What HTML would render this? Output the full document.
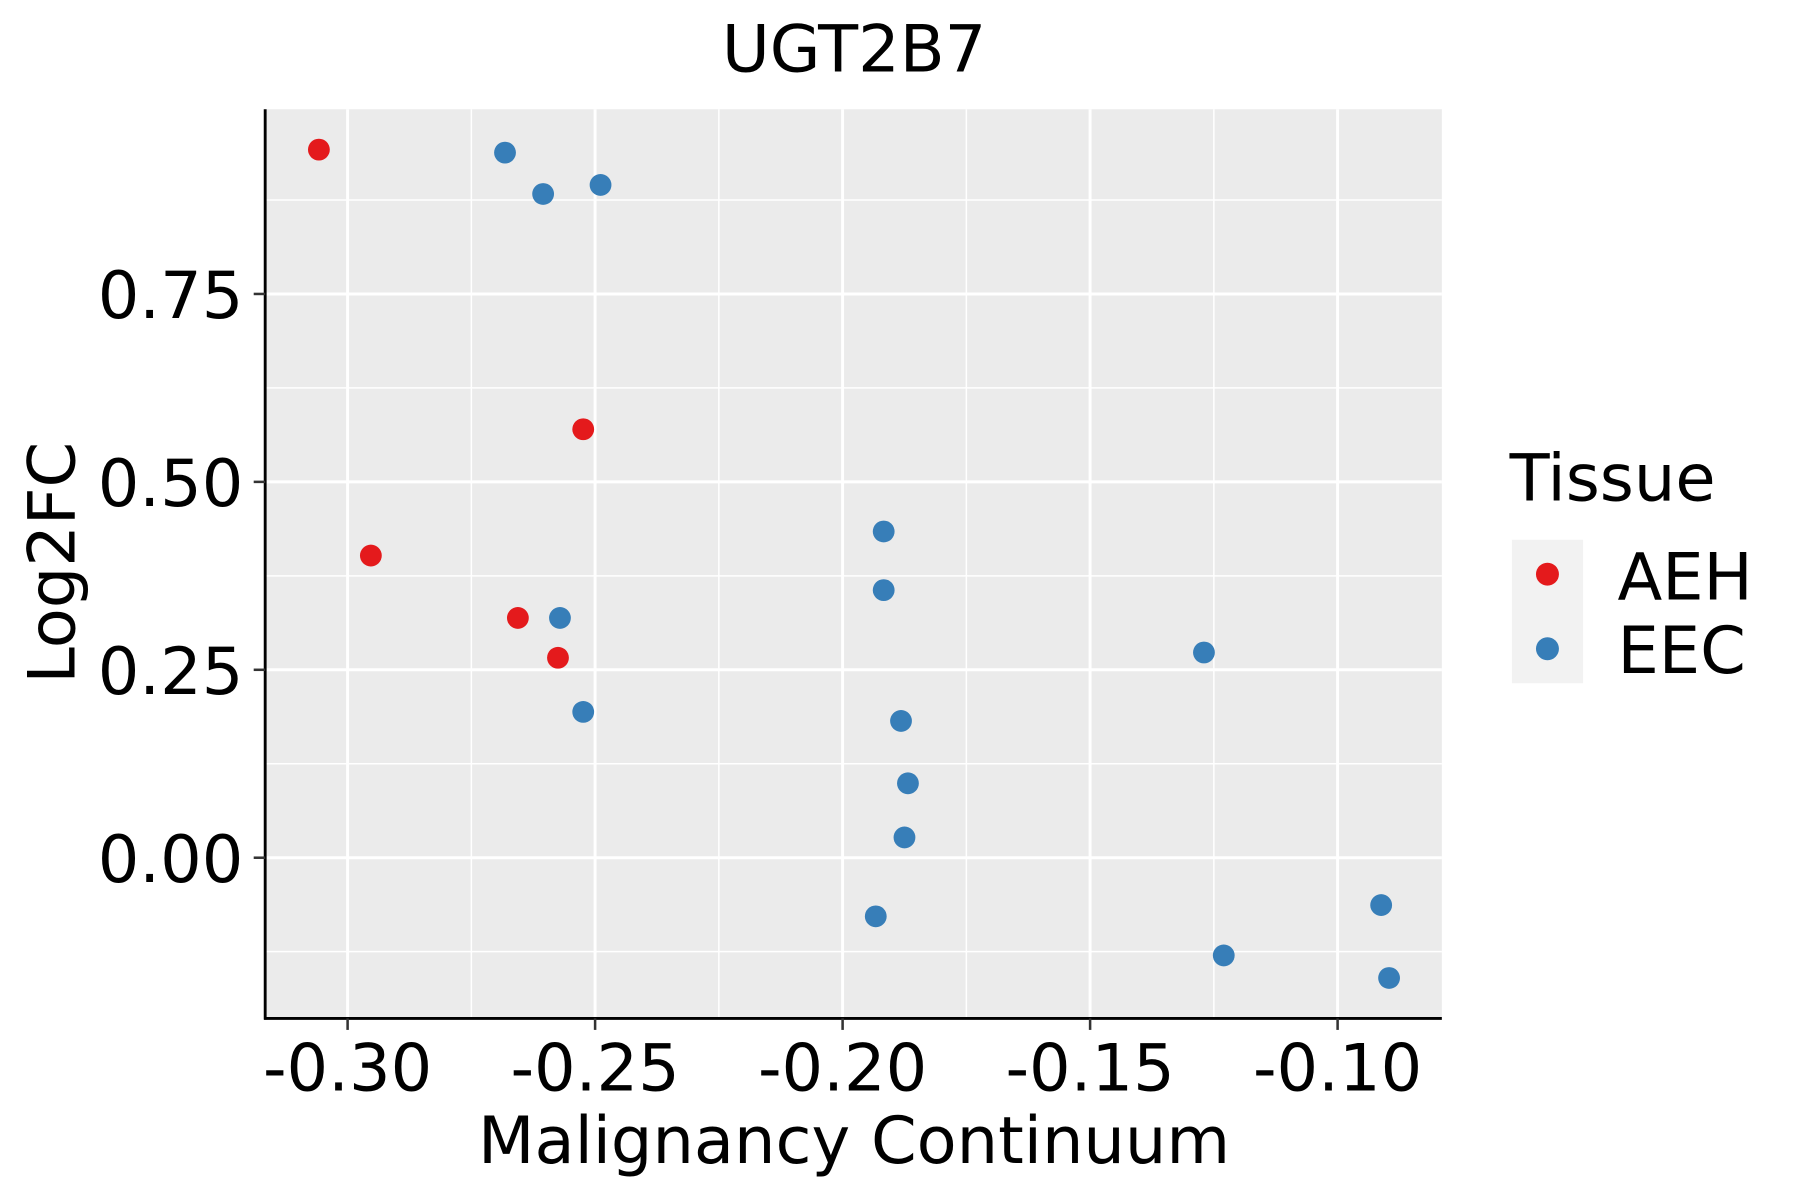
<!DOCTYPE html>
<html><head><meta charset="utf-8"><style>
html,body{margin:0;padding:0;background:#fff;}
svg{display:block;font-family:"DejaVu Sans","Liberation Sans",sans-serif;}
</style></head><body>
<svg id="chart" width="1800" height="1200" viewBox="0 0 1568 1045">
<rect x="0" y="0" width="1568" height="1045" fill="#fff"/>
<rect x="231" y="95" width="1025" height="792" fill="#ebebeb"/>
<g id="grid"></g>
<g id="points"></g>
<line x1="231" y1="95" x2="231" y2="888" stroke="#000" stroke-width="2.5"/>
<line x1="230" y1="887" x2="1256" y2="887" stroke="#000" stroke-width="2.5"/>
<g id="axes"></g>
<text x="744" y="62" font-size="57" text-anchor="middle">UGT2B7</text>
<text x="744" y="1013" font-size="57" text-anchor="middle">Malignancy Continuum</text>
<text transform="translate(65,490) rotate(-90)" font-size="57" text-anchor="middle">Log2FC</text>
<g>
<text x="1315" y="436" font-size="57">Tissue</text>
<rect x="1317" y="470" width="62" height="125" fill="#f2f2f2"/>
<g><circle cx="1348" cy="500" r="10" fill="#e41a1c"/><text x="1409" y="522" font-size="57">AEH</text></g>
<g><circle cx="1348" cy="565" r="10" fill="#377eb8"/><text x="1409" y="586" font-size="57">EEC</text></g>
</g>
</svg>
<script>
const xTicks=[-0.30,-0.25,-0.20,-0.15,-0.10];
const xTickLabels=["-0.30","-0.25","-0.20","-0.15","-0.10"];
const yTicks=[0,0.25,0.5,0.75];
const yTickLabels=["0.00","0.25","0.50","0.75"];
const aehX=[-0.3058,-0.2953,-0.2656,-0.2575,-0.2524];
const aehY=[0.942,0.402,0.319,0.266,0.570];
const eecX=[-0.2682,-0.2605,-0.2489,-0.2571,-0.2524,-0.1917,-0.1917,-0.1882,-0.1868,-0.1875,-0.1933,-0.1270,-0.1230,-0.0912,-0.0896];
const eecY=[0.938,0.883,0.895,0.319,0.194,0.434,0.356,0.182,0.099,0.027,-0.078,0.273,-0.130,-0.063,-0.160];
const NS="http://www.w3.org/2000/svg";
function xs(v){return 734+(v+0.2)*4312;}
function ys(v){return 747-v*654.8;}
const grid=document.getElementById('grid'),axes=document.getElementById('axes'),pts=document.getElementById('points');
function ln(p,x1,y1,x2,y2,c,w,name){const l=document.createElementNS(NS,'line');l.setAttribute('x1',x1);l.setAttribute('y1',y1);l.setAttribute('x2',x2);l.setAttribute('y2',y2);l.setAttribute('stroke',c);l.setAttribute('stroke-width',w);


p.appendChild(l);}
function tx(p,x,y,s,anchor,name){const t=document.createElementNS(NS,'text');t.setAttribute('x',x);t.setAttribute('y',y);t.setAttribute('font-size','57');t.setAttribute('text-anchor',anchor);t.textContent=s;


p.appendChild(t);}
const xstep=xTicks[1]-xTicks[0], ystep=yTicks[1]-yTicks[0];
for(let i=0;i<xTicks.length;i++){const m=xTicks[i]+xstep/2;if(xs(m)<1256)ln(grid,xs(m),95,xs(m),887,'#fff',1.3,'x-minor-gridline');}
for(let i=-1;i<yTicks.length;i++){const m=yTicks[0]+ystep*i+ystep/2;if(ys(m)>95&&ys(m)<887)ln(grid,231,ys(m),1256,ys(m),'#fff',1.3,'y-minor-gridline');}
xTicks.forEach((v,i)=>{ln(grid,xs(v),95,xs(v),887,'#fff',2.6,'x-major-gridline');ln(axes,xs(v),887,xs(v),897,'#333',2.2,'x-tick');tx(axes,xs(v),950,xTickLabels[i],'middle','x-tick-label');});
yTicks.forEach((v,i)=>{ln(grid,231,ys(v),1256,ys(v),'#fff',2.6,'y-major-gridline');ln(axes,221,ys(v),231,ys(v),'#333',2.2,'y-tick');tx(axes,212,ys(v)+21,yTickLabels[i],'end','y-tick-label');});
function dot(x,y,c,name){const d=document.createElementNS(NS,'circle');d.setAttribute('cx',xs(x));d.setAttribute('cy',ys(y));d.setAttribute('r',9.5);d.setAttribute('fill',c);


pts.appendChild(d);}
aehX.forEach((x,i)=>dot(x,aehY[i],'#e41a1c','point-aeh'));
eecX.forEach((x,i)=>dot(x,eecY[i],'#377eb8','point-eec'));
</script>
</body></html>
